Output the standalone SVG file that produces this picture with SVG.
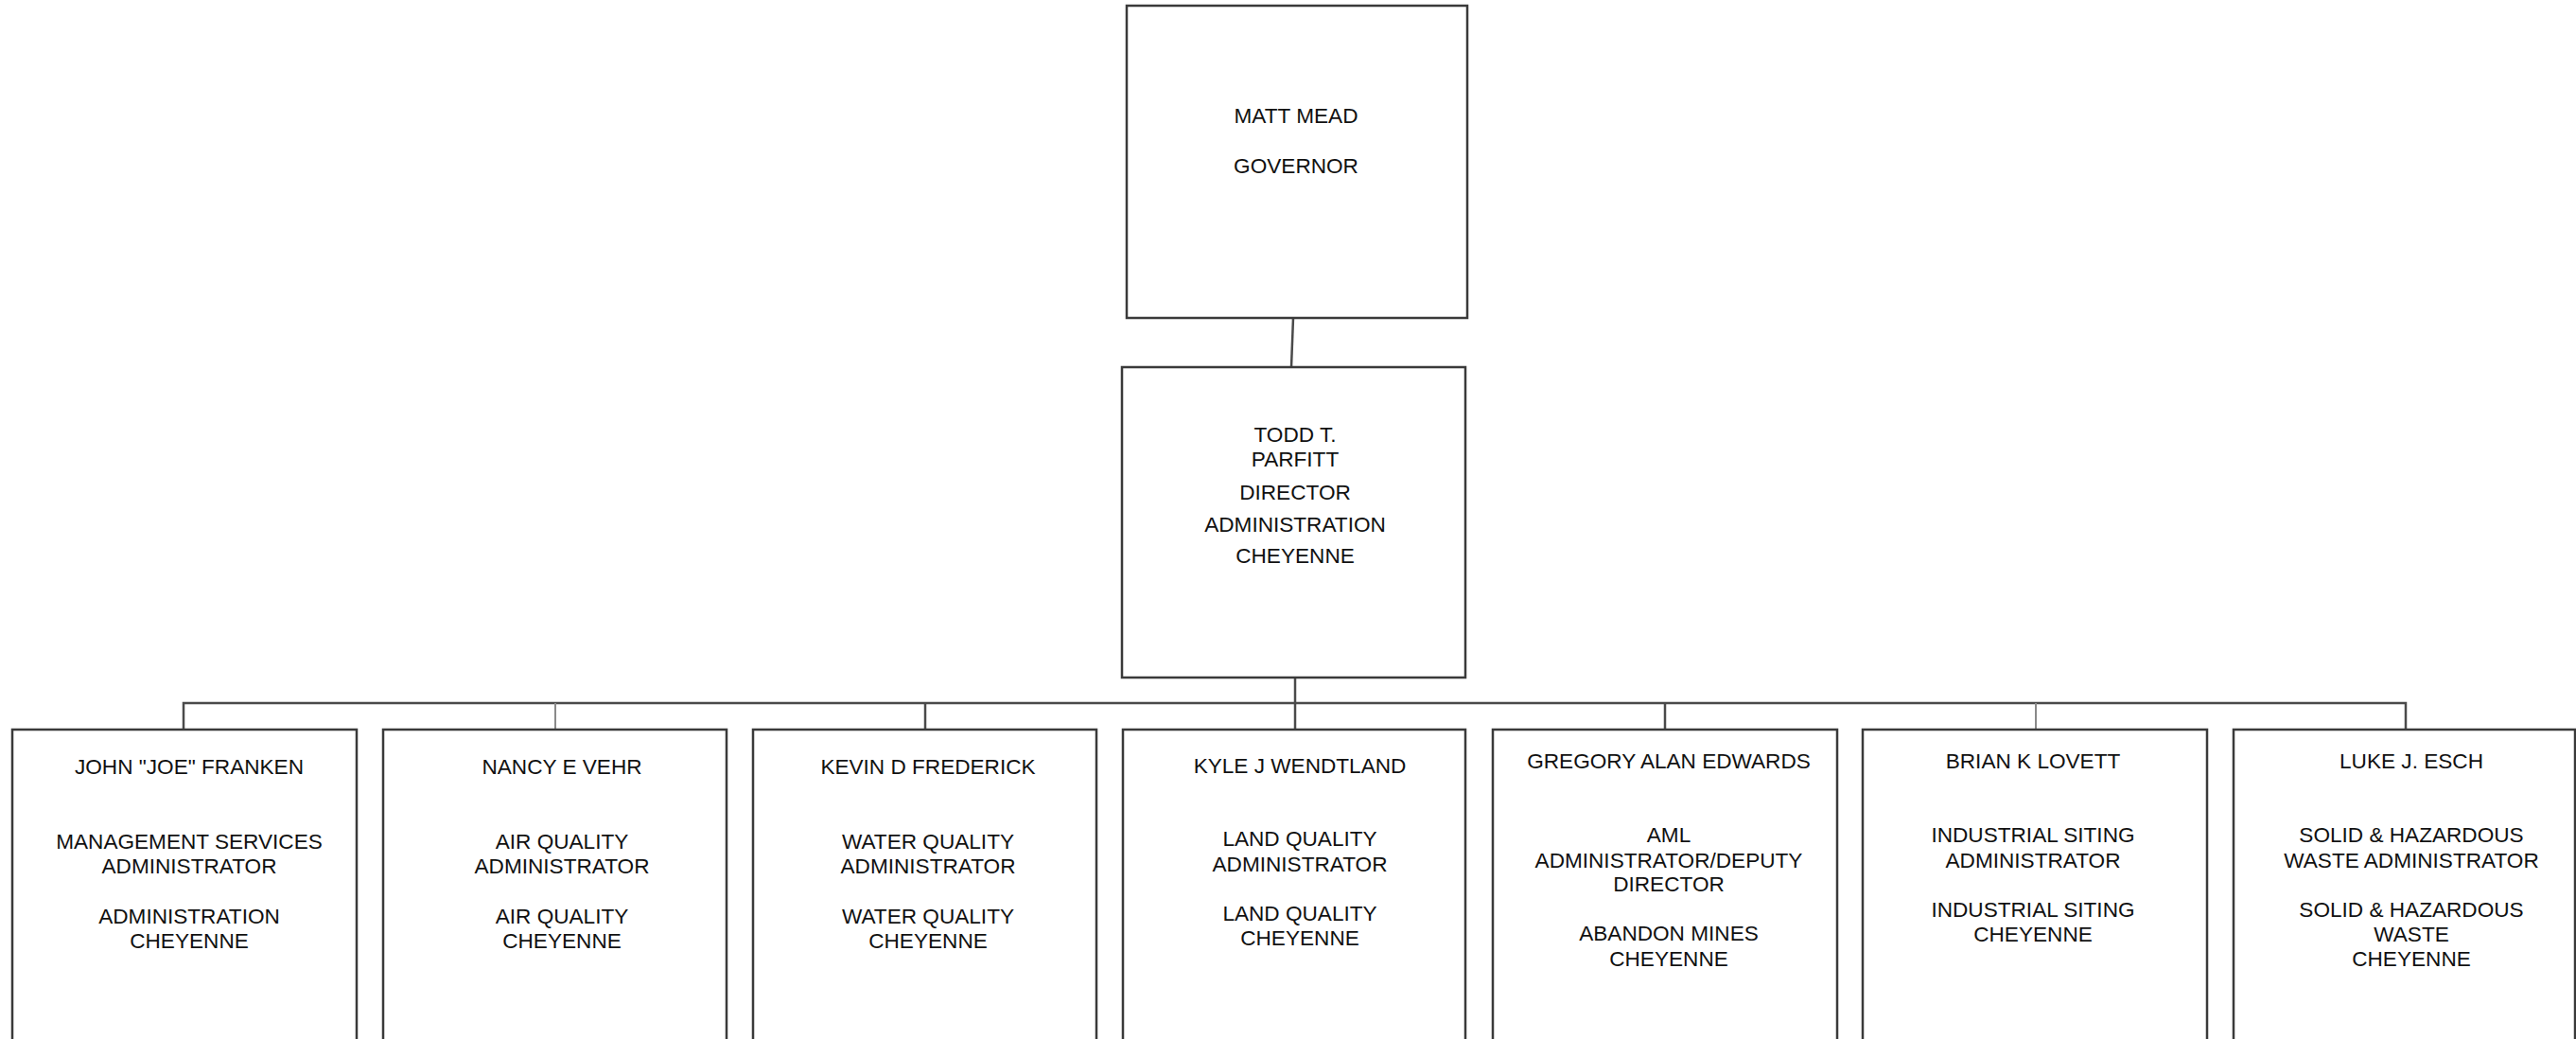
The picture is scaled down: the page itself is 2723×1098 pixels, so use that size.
<svg xmlns="http://www.w3.org/2000/svg" width="2723" height="1098" viewBox="0 0 2723 1098">
<style>
.box{fill:#fff;stroke:#3a3a3a;stroke-width:2.5}
.ln{fill:none;stroke:#4a4a4a;stroke-width:2.5}
.lt{fill:none;stroke:#8a8a8a;stroke-width:2}
text{font-family:"Liberation Sans",Arial,sans-serif;font-size:22.6px;fill:#111;text-anchor:middle}
</style>
<rect width="2723" height="1098" fill="#fff"/>
<g id="connectors">
<line class="ln" x1="1367" y1="336" x2="1365" y2="388"/>
<line class="ln" x1="1369" y1="716" x2="1369" y2="771"/>
<polyline class="ln" points="194,771 194,743 2543,743 2543,771"/>
<line class="lt" x1="587" y1="743" x2="587" y2="771"/>
<line class="ln" x1="978" y1="743" x2="978" y2="771"/>
<line class="ln" x1="1760" y1="743" x2="1760" y2="771"/>
<line class="lt" x1="2152" y1="743" x2="2152" y2="771"/>
</g>
<g id="governor">
<rect class="box" x="1191" y="6" width="360" height="330"/>
<text x="1370" y="130">MATT MEAD</text>
<text x="1370" y="183">GOVERNOR</text>
</g>
<g id="director">
<rect class="box" x="1186" y="388" width="363" height="328"/>
<text x="1369" y="467">TODD T.</text>
<text x="1369" y="493">PARFITT</text>
<text x="1369" y="528">DIRECTOR</text>
<text x="1369" y="562">ADMINISTRATION</text>
<text x="1369" y="595">CHEYENNE</text>
</g>
<g id="franken">
<rect class="box" x="13" y="771" width="364" height="330"/>
<text x="200" y="818">JOHN "JOE" FRANKEN</text>
<text x="200" y="897">MANAGEMENT SERVICES</text>
<text x="200" y="923">ADMINISTRATOR</text>
<text x="200" y="976">ADMINISTRATION</text>
<text x="200" y="1002">CHEYENNE</text>
</g>
<g id="vehr">
<rect class="box" x="405" y="771" width="363" height="330"/>
<text x="594" y="818">NANCY E VEHR</text>
<text x="594" y="897">AIR QUALITY</text>
<text x="594" y="923">ADMINISTRATOR</text>
<text x="594" y="976">AIR QUALITY</text>
<text x="594" y="1002">CHEYENNE</text>
</g>
<g id="frederick">
<rect class="box" x="796" y="771" width="363" height="330"/>
<text x="981" y="818">KEVIN D FREDERICK</text>
<text x="981" y="897">WATER QUALITY</text>
<text x="981" y="923">ADMINISTRATOR</text>
<text x="981" y="976">WATER QUALITY</text>
<text x="981" y="1002">CHEYENNE</text>
</g>
<g id="wendtland">
<rect class="box" x="1187" y="771" width="362" height="330"/>
<text x="1374" y="817">KYLE J WENDTLAND</text>
<text x="1374" y="894">LAND QUALITY</text>
<text x="1374" y="921">ADMINISTRATOR</text>
<text x="1374" y="973">LAND QUALITY</text>
<text x="1374" y="999">CHEYENNE</text>
</g>
<g id="edwards">
<rect class="box" x="1578" y="771" width="364" height="330"/>
<text x="1764" y="812">GREGORY ALAN EDWARDS</text>
<text x="1764" y="890">AML</text>
<text x="1764" y="917">ADMINISTRATOR/DEPUTY</text>
<text x="1764" y="942">DIRECTOR</text>
<text x="1764" y="994">ABANDON MINES</text>
<text x="1764" y="1021">CHEYENNE</text>
</g>
<g id="lovett">
<rect class="box" x="1969" y="771" width="364" height="330"/>
<text x="2149" y="812">BRIAN K LOVETT</text>
<text x="2149" y="890">INDUSTRIAL SITING</text>
<text x="2149" y="917">ADMINISTRATOR</text>
<text x="2149" y="969">INDUSTRIAL SITING</text>
<text x="2149" y="995">CHEYENNE</text>
</g>
<g id="esch">
<rect class="box" x="2361" y="771" width="361" height="330"/>
<text x="2549" y="812">LUKE J. ESCH</text>
<text x="2549" y="890">SOLID &amp; HAZARDOUS</text>
<text x="2549" y="917">WASTE ADMINISTRATOR</text>
<text x="2549" y="969">SOLID &amp; HAZARDOUS</text>
<text x="2549" y="995">WASTE</text>
<text x="2549" y="1021">CHEYENNE</text>
</g>
</svg>
